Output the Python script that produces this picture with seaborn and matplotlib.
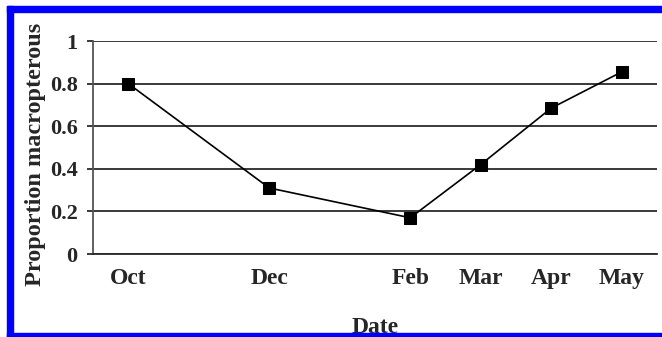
import matplotlib
matplotlib.use("Agg")
import matplotlib.pyplot as plt
from matplotlib.patches import Rectangle
import seaborn as sns
import pandas as pd

# Data
months = ["Oct", "Dec", "Feb", "Mar", "Apr", "May"]
months_since_oct = [0, 2, 4, 5, 6, 7]
proportion = [0.80, 0.31, 0.17, 0.42, 0.685, 0.855]
y_ticks = [0, 0.2, 0.4, 0.6, 0.8, 1]
y_tick_labels = ["0", "0.2", "0.4", "0.6", "0.8", "1"]

df = pd.DataFrame({"month": months_since_oct, "prop": proportion})

sns.set_style("white")
plt.rcParams["font.family"] = ["Liberation Serif", "DejaVu Serif"]
plt.rcParams["font.weight"] = "bold"

W, H = 662, 337
fig = plt.figure(figsize=(W / 100, H / 100), dpi=100)
ax = fig.add_axes([93 / W, 1 - 254 / H, (657 - 93) / W, (254 - 41) / H])

for yv in y_ticks:
    ax.axhline(yv, color="#2a2a2a", lw=1.3, zorder=1)

sns.lineplot(data=df, x="month", y="prop", ax=ax, color="black", lw=1.2,
             marker="s", markersize=9, markeredgecolor="black",
             markerfacecolor="black", zorder=3)

ax.set_xlim(-0.5, 7.5)
ax.set_ylim(0, 1)
ax.set_xticks(months_since_oct)
ax.set_xticklabels(months, fontsize=17, fontweight="bold")
ax.set_yticks(y_ticks)
ax.set_yticklabels(y_tick_labels, fontsize=16, fontweight="bold")
ax.tick_params(axis="y", length=4, width=1.3, color="#2a2a2a", pad=7, direction="out", left=True)
ax.tick_params(axis="x", length=0, pad=10)

for s in ["top", "right"]:
    ax.spines[s].set_visible(False)
ax.spines["left"].set_color("#555555")
ax.spines["left"].set_linewidth(1.3)
ax.spines["bottom"].set_color("#2a2a2a")
ax.spines["bottom"].set_linewidth(1.3)

ax.set_xlabel("Date", fontsize=17, fontweight="bold", labelpad=20)
ax.set_ylabel("Proportion macropterous", fontsize=17.5, fontweight="bold")
ax.yaxis.set_label_coords(-0.083, 0.47)

# blue frame
blue = "#0000ff"
fig.patches.append(Rectangle((7 / W, 0), 6 / W, 1 - 6 / H, transform=fig.transFigure, color=blue, zorder=10))
fig.patches.append(Rectangle((7 / W, 1 - 12 / H), 1 - 7 / W, 6 / H, transform=fig.transFigure, color=blue, zorder=10))
fig.patches.append(Rectangle((7 / W, 0), 1 - 7 / W, 4 / H, transform=fig.transFigure, color=blue, zorder=10))

fig.savefig("out.png", dpi=100)
